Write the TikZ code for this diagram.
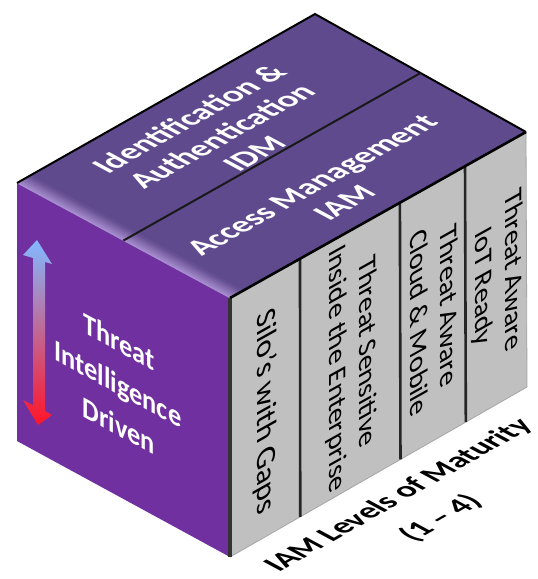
\documentclass[tikz,border=0pt]{standalone}
\usepackage{fontspec}
\setmainfont{Carlito}
\usetikzlibrary{calc}
\definecolor{leftc}{RGB}{112,48,160}
\definecolor{topc}{RGB}{96,74,142}
\definecolor{bevc}{RGB}{165,140,205}
\definecolor{grayc}{RGB}{192,192,192}
\definecolor{arrblue}{RGB}{130,185,255}
\definecolor{arrmid}{RGB}{235,205,235}
\definecolor{arrred}{RGB}{255,20,40}
\begin{document}
\begin{tikzpicture}[x=1pt,y=-1pt,
  lefttext/.style={text=white, font=\fontsize{30}{41}\selectfont\bfseries, inner sep=0pt, anchor=base, rotate=-28.4, xslant=-0.54, yscale=0.88},
  toptext/.style={text=white, font=\fontsize{32}{37}\selectfont\bfseries, align=center, inner sep=0pt, transform shape},
  righttext/.style={text=black, font=\fontsize{29}{34}\selectfont, align=center, inner sep=0pt, transform shape},
  bottomtext/.style={text=black, font=\fontsize{31}{48}\selectfont\bfseries, align=center, inner sep=0pt, transform shape},
  divline/.style={line width=2.6pt, black!85},
  edgeline/.style={line width=2pt, black}]
\useasboundingbox (0,0) rectangle (538,579);
\fill[white] (0,0) rectangle (538,579);
% corners
\coordinate (L) at (17,183);
\coordinate (F) at (230,298);
\coordinate (R) at (526,132);
\coordinate (T) at (315,14);
\coordinate (Lb) at (17,441);
\coordinate (Fb) at (230,557);
\coordinate (Rb) at (527,387);
\coordinate (M1) at ($(L)!0.5!(F)$);
\coordinate (M2) at ($(T)!0.5!(R)$);
% right face
\fill[grayc] (F) -- (R) -- (Rb) -- (Fb) -- cycle;
\draw[gray!70, line width=0.8pt] (R) -- (Rb) -- (Fb);
\foreach \t/\n in {0.2365/a,0.574/b,0.794/c}{
  \coordinate (d\n t) at ($(F)!\t!(R)$);
  \coordinate (d\n b) at ($(Fb)!\t!(Rb)$);
  \draw[divline] (d\n t) -- (d\n b);
}
% left face
\fill[leftc] (L) -- (F) -- (Fb) -- (Lb) -- cycle;
\draw[line width=4pt, black!80] (F) -- (Fb);
% top slabs
\fill[topc] (L) -- (M1) -- (M2) -- (T) -- cycle;
\fill[topc] (M1) -- (F) -- (R) -- (M2) -- cycle;
\foreach \i in {0,...,6}{
  \pgfmathsetmacro\f{0.003+\i*0.0065}
  \pgfmathsetmacro\p{100-\i*15}
  \draw[line width=2.4pt, color=bevc!\p!topc] ($(L)!\f!(T)$) -- ($(F)!\f!(R)$);
}
\draw[edgeline] (L) -- (T) -- (R);
\draw[line width=2.6pt, black] (F) -- (R);
\draw[line width=2pt, black!90] (M1) -- (M2);
% left face text, one line per node
\node[lefttext] (tid1) at (119,352) {Threat};
\node[lefttext] (tid2) at (118,394) {Intelligence};
\node[lefttext] (tid3) at (119,436) {Driven};
% top face texts
\begin{scope}[shift={(221,136)}, cm={0.872,0.489,-0.880,0.475,(0,0)}]
  \node[toptext] (idm) at (0,0) {Identification \&\\Authentication\\IDM};
\end{scope}
\begin{scope}[shift={(328,194)}, cm={0.872,0.489,-0.880,0.475,(0,0)}]
  \node[toptext] (iam) at (0,0) {Access Management\\IAM};
\end{scope}
% right face texts
\begin{scope}[shift={(265,412)}, cm={0,-1,0.872,0.489,(0,0)}]
  \node[righttext, font=\fontsize{32}{34}\selectfont] (s1) at (0,0) {Silo's with Gaps};
\end{scope}
\begin{scope}[shift={(351,361)}, cm={0,-1,0.872,0.489,(0,0)}]
  \node[righttext] (s2) at (0,0) {Threat Sensitive\\Inside the Enterprise};
\end{scope}
\begin{scope}[shift={(434,314)}, cm={0,-1,0.872,0.489,(0,0)}]
  \node[righttext] (s3) at (0,0) {Threat Aware\\Cloud \& Mobile};
\end{scope}
\begin{scope}[shift={(497,279)}, cm={0,-1,0.872,0.489,(0,0)}]
  \node[righttext] (s4) at (0,0) {Threat Aware\\IoT Ready};
\end{scope}
% ground label
\begin{scope}[shift={(420,507)}, cm={0.868,0.497,-0.880,0.475,(0,0)}]
  \node[bottomtext] (lvl) at (0,0) {IAM Levels of Maturity\\(1 – 4)};
\end{scope}
% arrow
\shade[top color=arrblue, middle color=arrmid, bottom color=arrred]
  (37,240) -- (52,264) -- (45,262) -- (45,411) -- (52,415) -- (38,425)
  -- (23,400) -- (33,405) -- (33,258) -- (23,255) -- cycle;
\end{tikzpicture}
\end{document}
